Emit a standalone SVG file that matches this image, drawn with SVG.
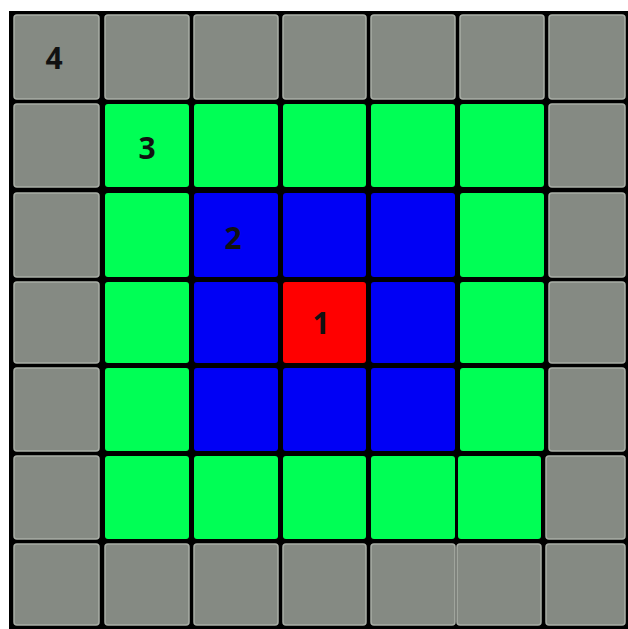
<svg xmlns="http://www.w3.org/2000/svg" width="628" height="629" viewBox="0 0 628 629">
<style>
.c{rx:3;ry:3}
.g{fill:#858a83;stroke:#a9aea6;stroke-width:1.5}
.gr{fill:#00ff55}
.b{fill:#0000f5}
.r{fill:#ff0000}
.t{font-family:"Open Sans","DejaVu Sans",sans-serif;font-weight:bold;font-size:30px;fill:#111;text-anchor:middle}
</style>
<rect width="628" height="629" fill="#ffffff"/>
<rect x="9" y="11" width="619" height="618" fill="#000"/>
<g id="row0">
<rect class="c g" x="14" y="15" width="85" height="84"/>
<rect class="c g" x="105" y="15" width="84" height="84"/>
<rect class="c g" x="194" y="15" width="84" height="84"/>
<rect class="c g" x="283" y="15" width="83" height="84"/>
<rect class="c g" x="371" y="15" width="84" height="84"/>
<rect class="c g" x="460" y="15" width="84" height="84"/>
<rect class="c g" x="549" y="15" width="76" height="84"/>
</g>
<g id="row1">
<rect class="c g" x="14" y="104" width="85" height="83"/>
<rect class="c gr" x="105" y="104" width="84" height="83"/>
<rect class="c gr" x="194" y="104" width="84" height="83"/>
<rect class="c gr" x="283" y="104" width="83" height="83"/>
<rect class="c gr" x="371" y="104" width="84" height="83"/>
<rect class="c gr" x="460" y="104" width="84" height="83"/>
<rect class="c g" x="549" y="104" width="76" height="83"/>
</g>
<g id="row2">
<rect class="c g" x="14" y="193" width="85" height="84"/>
<rect class="c gr" x="105" y="193" width="84" height="84"/>
<rect class="c b" x="194" y="193" width="84" height="84"/>
<rect class="c b" x="283" y="193" width="83" height="84"/>
<rect class="c b" x="371" y="193" width="84" height="84"/>
<rect class="c gr" x="460" y="193" width="84" height="84"/>
<rect class="c g" x="549" y="193" width="76" height="84"/>
</g>
<g id="row3">
<rect class="c g" x="14" y="282" width="85" height="81"/>
<rect class="c gr" x="105" y="282" width="84" height="81"/>
<rect class="c b" x="194" y="282" width="84" height="81"/>
<rect class="c r" x="283" y="282" width="83" height="81"/>
<rect class="c b" x="371" y="282" width="84" height="81"/>
<rect class="c gr" x="460" y="282" width="84" height="81"/>
<rect class="c g" x="549" y="282" width="76" height="81"/>
</g>
<g id="row4">
<rect class="c g" x="14" y="368" width="85" height="83"/>
<rect class="c gr" x="105" y="368" width="84" height="83"/>
<rect class="c b" x="194" y="368" width="84" height="83"/>
<rect class="c b" x="283" y="368" width="83" height="83"/>
<rect class="c b" x="371" y="368" width="84" height="83"/>
<rect class="c gr" x="460" y="368" width="84" height="83"/>
<rect class="c g" x="549" y="368" width="76" height="83"/>
</g>
<g id="row5">
<rect class="c g" x="14" y="456" width="85" height="83"/>
<rect class="c gr" x="105" y="456" width="84" height="83"/>
<rect class="c gr" x="194" y="456" width="84" height="83"/>
<rect class="c gr" x="283" y="456" width="83" height="83"/>
<rect class="c gr" x="371" y="456" width="84" height="83"/>
<rect class="c gr" x="458" y="456" width="83" height="83"/>
<rect class="c g" x="546" y="456" width="79" height="83"/>
</g>
<g id="row6">
<rect class="c g" x="14" y="544" width="85" height="81"/>
<rect class="c g" x="105" y="544" width="84" height="81"/>
<rect class="c g" x="194" y="544" width="84" height="81"/>
<rect class="c g" x="283" y="544" width="83" height="81"/>
<rect class="c g" x="371" y="544" width="84" height="81"/>
<rect class="c g" x="457" y="544" width="84" height="81"/>
<rect class="c g" x="546" y="544" width="79" height="81"/>
</g>
<g id="labels">
<text class="t" x="54" y="69">4</text>
<text class="t" x="147" y="159">3</text>
<text class="t" x="233" y="249">2</text>
<text class="t" x="321" y="334">1</text>
</g>
</svg>
